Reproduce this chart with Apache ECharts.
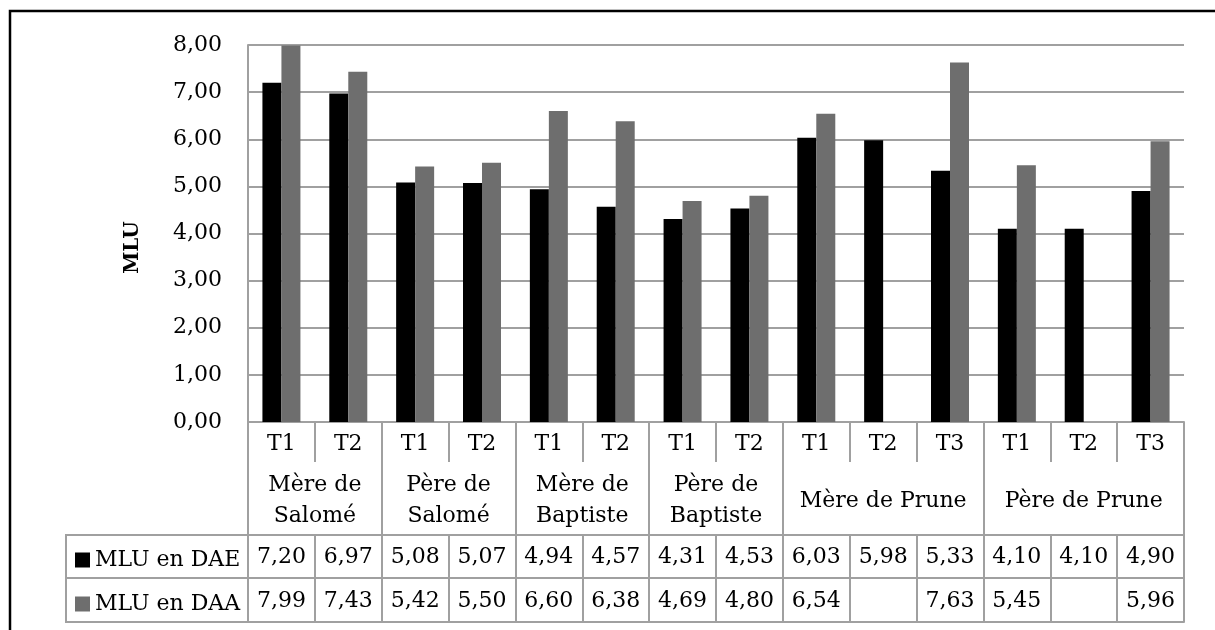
<!DOCTYPE html>
<html>
<head>
<meta charset="utf-8">
<script src="https://cdn.jsdelivr.net/npm/echarts@6/dist/echarts.min.js"></script>
<style>
  html, body { margin: 0; padding: 0; background: #fff; }
  #main { width: 1215px; height: 630px; }
</style>
</head>
<body>
<div id="main"></div>
<script>
// donnees du graphique
var categories = ['T1', 'T2', 'T1', 'T2', 'T1', 'T2', 'T1', 'T2', 'T1', 'T2', 'T3', 'T1', 'T2', 'T3'];
var groupNames = ['Mère de\nSalomé', 'Père de\nSalomé', 'Mère de\nBaptiste', 'Père de\nBaptiste', 'Mère de Prune', 'Père de Prune'];
var groupSizes = [2, 2, 2, 2, 3, 3];
var seriesNames = ['MLU en DAE', 'MLU en DAA'];
var dae = [7.20, 6.97, 5.08, 5.07, 4.94, 4.57, 4.31, 4.53, 6.03, 5.98, 5.33, 4.10, 4.10, 4.90];
var daa = [7.99, 7.43, 5.42, 5.50, 6.60, 6.38, 4.69, 4.80, 6.54, null, 7.63, 5.45, null, 5.96];

var FONT = 'DejaVu Serif';
var GRAY = '#a0a0a0';

function fmt(v) {
  if (v === null || v === undefined) return '';
  return v.toFixed(2).replace('.', ',');
}

// limites et centres des groupes (en unites de colonnes)
var bounds = [0], centers = [];
groupSizes.forEach(function (n, i) {
  centers.push(bounds[i] + n / 2);
  bounds.push(bounds[i] + n);
});

var chart = echarts.init(document.getElementById('main'));

var option = {
  animation: false,
  backgroundColor: '#fff',
  textStyle: { fontFamily: FONT, color: '#000' },
  grid: { left: 248, top: 45, width: 936, height: 377, containLabel: false },
  legend: [
    { data: [seriesNames[0]], orient: 'vertical', left: 70, top: 544, icon: 'rect',
      itemWidth: 15, itemHeight: 15, selectedMode: false,
      textStyle: { fontFamily: FONT, fontSize: 22, color: '#000' } },
    { data: [seriesNames[1]], orient: 'vertical', left: 70, top: 588, icon: 'rect',
      itemWidth: 15, itemHeight: 15, selectedMode: false,
      textStyle: { fontFamily: FONT, fontSize: 22, color: '#000' } }
  ],
  yAxis: {
    type: 'value', min: 0, max: 8, interval: 1,
    name: 'MLU', nameLocation: 'middle', nameGap: 105,
    nameTextStyle: { fontFamily: FONT, fontSize: 20, fontWeight: 'bold', color: '#000', padding: [0, 28, 0, 0] },
    axisLine: { show: true, lineStyle: { color: GRAY, width: 2 } },
    axisTick: { show: false },
    axisLabel: { formatter: fmt, fontFamily: FONT, fontSize: 22, color: '#000', margin: 26 },
    splitLine: { lineStyle: { color: GRAY, width: 2 } }
  },
  xAxis: [
    { // T1 / T2 / T3
      type: 'category', data: categories, position: 'bottom',
      axisLine: { lineStyle: { color: GRAY, width: 2 } },
      axisTick: { show: true, interval: 0, length: 40, lineStyle: { color: GRAY, width: 2 } },
      axisLabel: { interval: 0, fontFamily: FONT, fontSize: 22, color: '#000', margin: 22, verticalAlign: 'middle' }
    },
    { // noms des groupes
      type: 'value', min: 0, max: categories.length, position: 'bottom', offset: 40,
      axisLine: { show: false },
      splitLine: { show: false },
      axisTick: { show: true, customValues: bounds, length: 73, lineStyle: { color: GRAY, width: 2 } },
      axisLabel: {
        customValues: centers, fontFamily: FONT, fontSize: 22, color: '#000', lineHeight: 31,
        margin: 39, verticalAlign: 'middle', align: 'center',
        formatter: function (v) {
          var i = centers.indexOf(v);
          return i >= 0 ? groupNames[i] : '';
        }
      }
    },
    { // ligne MLU en DAE
      type: 'category', data: categories, position: 'bottom', offset: 113,
      axisLine: { lineStyle: { color: GRAY, width: 2 } },
      axisTick: { show: true, interval: 0, length: 43, lineStyle: { color: GRAY, width: 2 } },
      axisLabel: { interval: 0, fontFamily: FONT, fontSize: 22, color: '#000', margin: 22, verticalAlign: 'middle',
        formatter: function (v, i) { return fmt(dae[i]); } }
    },
    { // ligne MLU en DAA
      type: 'category', data: categories, position: 'bottom', offset: 156,
      axisLine: { lineStyle: { color: GRAY, width: 2 } },
      axisTick: { show: true, interval: 0, length: 44, lineStyle: { color: GRAY, width: 2 } },
      axisLabel: { interval: 0, fontFamily: FONT, fontSize: 22, color: '#000', margin: 23, verticalAlign: 'middle',
        formatter: function (v, i) { return fmt(daa[i]); } }
    },
    { // bord inferieur du tableau
      type: 'category', data: categories, position: 'bottom', offset: 200,
      axisLine: { lineStyle: { color: GRAY, width: 2 } },
      axisTick: { show: false },
      axisLabel: { show: false }
    }
  ],
  series: [
    { name: seriesNames[0], type: 'bar', xAxisIndex: 0, data: dae, barWidth: 19, barGap: '0%',
      itemStyle: { color: '#000' } },
    { name: seriesNames[1], type: 'bar', xAxisIndex: 0, data: daa, barWidth: 19, barGap: '0%',
      itemStyle: { color: '#6e6e6e' } }
  ],
  graphic: [
    // cadre exterieur
    { type: 'rect', shape: { x: 10, y: 11, width: 1250, height: 700 },
      style: { fill: 'none', stroke: '#000', lineWidth: 2.5 }, silent: true },
    // colonne de la legende
    { type: 'rect', shape: { x: 66, y: 535, width: 182, height: 87 },
      style: { fill: 'none', stroke: GRAY, lineWidth: 2 }, silent: true },
    { type: 'line', shape: { x1: 66, y1: 578, x2: 248, y2: 578 },
      style: { stroke: GRAY, lineWidth: 2 }, silent: true }
  ]
};

chart.setOption(option);
</script>
</body>
</html>
